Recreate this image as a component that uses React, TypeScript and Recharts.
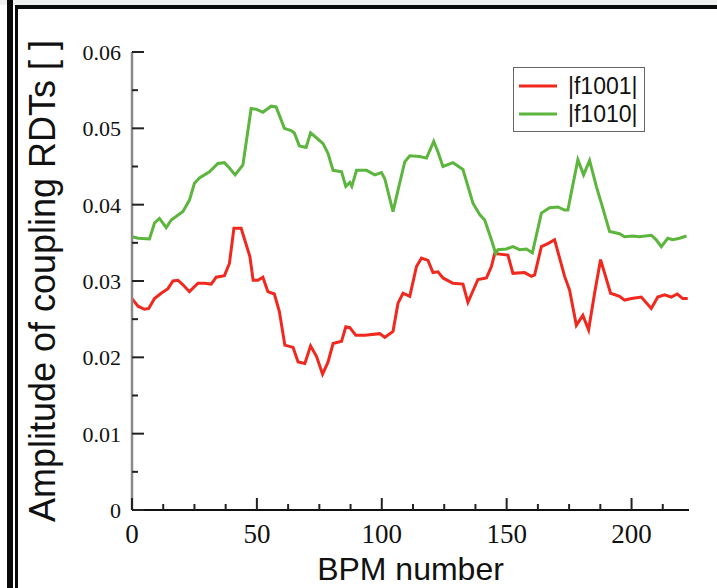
import React from 'react';
import { LineChart, Line, XAxis, YAxis, Legend, Label } from 'recharts';

// ---- data ----
const redBpm = [0, 2.4, 5, 6.7, 9, 11.7, 14.4, 16.4, 18.4, 20.4, 23, 26.4, 29, 31.7, 33.7, 37, 39, 40.8, 43.7, 47.2, 48.5, 50.4, 52.4, 54.4, 57, 59, 61.2, 64.5, 66.5, 69.2, 71.5, 73.9, 76.3, 78.5, 80.5, 83.9, 85.6, 87.2, 89.6, 93.2, 99.2, 101.2, 104.5, 106.5, 108.5, 111.2, 113.9, 115.9, 118.5, 120.5, 122.5, 124.5, 128.5, 132.5, 134.5, 138.5, 141.9, 143.9, 145.2, 150.5, 152.5, 157.2, 159.9, 161.2, 163.9, 166.5, 169.2, 173.2, 175.2, 177.9, 180.5, 182.8, 185.2, 187.6, 191.6, 195.2, 197.2, 200, 203.9, 207.9, 210.5, 213.2, 215.9, 218.3, 220.5, 222.5];
const redVal = [0.0277, 0.0267, 0.0263, 0.0264, 0.0277, 0.0284, 0.029, 0.03, 0.0301, 0.0295, 0.0286, 0.0297, 0.0297, 0.0296, 0.0305, 0.0307, 0.0323, 0.0369, 0.0369, 0.0332, 0.0301, 0.0301, 0.0305, 0.0286, 0.0283, 0.026, 0.0216, 0.0213, 0.0194, 0.0192, 0.0215, 0.0201, 0.0178, 0.0194, 0.0218, 0.0221, 0.024, 0.0239, 0.0229, 0.0229, 0.0231, 0.0226, 0.0234, 0.0271, 0.0284, 0.028, 0.0319, 0.033, 0.0327, 0.0311, 0.0312, 0.0304, 0.0297, 0.0296, 0.0272, 0.0302, 0.0304, 0.0319, 0.0336, 0.0334, 0.031, 0.0311, 0.0306, 0.0308, 0.0345, 0.0349, 0.0354, 0.0306, 0.0288, 0.0242, 0.0255, 0.0236, 0.0284, 0.0328, 0.0284, 0.028, 0.0275, 0.0277, 0.0279, 0.0264, 0.0279, 0.0282, 0.0279, 0.0283, 0.0277, 0.0277];

const greenBpm = [0, 2.5, 7, 9, 11, 13.7, 15.7, 20.4, 23, 25, 27, 31, 34.4, 37, 39, 41.3, 44.4, 47.7, 49.7, 52.4, 55.7, 57.7, 61, 63.7, 65, 67, 69.7, 71.5, 74.4, 76.5, 78.5, 80.5, 83.9, 85.6, 87.2, 88, 89.9, 93.9, 97.2, 99.9, 101.2, 104.5, 106.5, 109.2, 111.2, 115.2, 117.9, 120.8, 122.5, 124.5, 128.5, 132.5, 136.5, 139.2, 141.2, 143.9, 145.6, 146.5, 149.9, 152.5, 155.2, 157.9, 160.3, 163.9, 167.2, 170.5, 173.2, 174.5, 178.5, 180.8, 183.2, 185.9, 187.9, 191.2, 195.2, 197.2, 200.5, 203, 207.9, 209.9, 211.9, 214.5, 216.5, 219.2, 222];
const greenVal = [0.0358, 0.0356, 0.0355, 0.0376, 0.0382, 0.037, 0.038, 0.0391, 0.0406, 0.0428, 0.0435, 0.0443, 0.0454, 0.0455, 0.0448, 0.0439, 0.0452, 0.0526, 0.0525, 0.0521, 0.0529, 0.0528, 0.05, 0.0497, 0.0494, 0.0477, 0.0475, 0.0494, 0.0486, 0.048, 0.0467, 0.0445, 0.0443, 0.0424, 0.0429, 0.0424, 0.0445, 0.0445, 0.0439, 0.0442, 0.0434, 0.0391, 0.0419, 0.0456, 0.0464, 0.0463, 0.0461, 0.0483, 0.0469, 0.045, 0.0455, 0.0446, 0.0402, 0.0387, 0.038, 0.0354, 0.0336, 0.0341, 0.0342, 0.0345, 0.0341, 0.0342, 0.0337, 0.0389, 0.0396, 0.0397, 0.0393, 0.0393, 0.0459, 0.0439, 0.0458, 0.0424, 0.0402, 0.0365, 0.0362, 0.0358, 0.0359, 0.0358, 0.036, 0.0354, 0.0345, 0.0356, 0.0354, 0.0356, 0.0359];

const seriesNames = ['|f1001|', '|f1010|'];
const xMajorTicks = [0, 50, 100, 150, 200];
const xAllTicks = [0, 12.5, 25, 37.5, 50, 62.5, 75, 87.5, 100, 112.5, 125, 137.5, 150, 162.5, 175, 187.5, 200, 212.5];
const yMajorTicks = [0, 0.01, 0.02, 0.03, 0.04, 0.05, 0.06];
const yAllTicks = [0, 0.005, 0.01, 0.015, 0.02, 0.025, 0.03, 0.035, 0.04, 0.045, 0.05, 0.055, 0.06];
const yTickLabels = ['0', '0.01', '0.02', '0.03', '0.04', '0.05', '0.06'];
const xTitle = 'BPM number';
const yTitle = 'Amplitude of coupling RDTs [ ]';

const redData = redBpm.map((b, i) => ({ bpm: b, v: redVal[i] }));
const greenData = greenBpm.map((b, i) => ({ bpm: b, v: greenVal[i] }));

const RED = '#f0281e';
const GREEN = '#5cb53c';
const SERIF = "'Liberation Serif', 'Times New Roman', serif";
const SANS = "'Liberation Sans', Arial, Helvetica, sans-serif";
const TICK = '#222';
const MAJ = 12;
const MIN = 6;

const isMajorX = (v: number) => xMajorTicks.some((m) => Math.abs(m - v) < 1e-6);
const majorYIndex = (v: number) => yMajorTicks.findIndex((m) => Math.abs(m - v) < 1e-9);

const BottomTick = (props: any) => {
  const { x, y, payload } = props;
  const major = isMajorX(payload.value);
  return (
    <g>
      <line x1={x} y1={y} x2={x} y2={y - (major ? MAJ : MIN)} stroke={TICK} strokeWidth={2} />
      {major && (
        <text x={x} y={y + 33} textAnchor="middle" style={{ fontFamily: SERIF }} fontSize={27} fill="#111">
          {String(payload.value)}
        </text>
      )}
    </g>
  );
};

const TopTick = (props: any) => {
  const { x, y, payload } = props;
  const major = isMajorX(payload.value);
  return <line x1={x} y1={y} x2={x} y2={y + (major ? MAJ : MIN)} stroke={TICK} strokeWidth={2} />;
};

const LeftTick = (props: any) => {
  const { x, y, payload } = props;
  const idx = majorYIndex(payload.value);
  const major = idx >= 0;
  return (
    <g>
      <line x1={x} y1={y} x2={x + (major ? MAJ : MIN)} y2={y} stroke={TICK} strokeWidth={2} />
      {major && (
        <text x={x - 11} y={y + 8} textAnchor="end" style={{ fontFamily: SERIF }} fontSize={22} fill="#111">
          {yTickLabels[idx]}
        </text>
      )}
    </g>
  );
};

const RightTick = (props: any) => {
  const { x, y, payload } = props;
  const major = majorYIndex(payload.value) >= 0;
  return <line x1={x} y1={y} x2={x - (major ? MAJ : MIN)} y2={y} stroke={TICK} strokeWidth={2} />;
};

const XTitle = (props: any) => {
  const vb = props.viewBox;
  return (
    <text x={vb.x + vb.width / 2} y={vb.y + 70} textAnchor="middle" style={{ fontFamily: SANS }} fontSize={32} fill="#111">
      {xTitle}
    </text>
  );
};

const YTitle = (props: any) => {
  const vb = props.viewBox;
  const cx = vb.x + 55;
  const cy = vb.y + vb.height / 2;
  return (
    <text x={cx} y={cy} transform={`rotate(-90 ${cx} ${cy})`} textAnchor="middle" style={{ fontFamily: SANS }} fontSize={36} fill="#111">
      {yTitle}
    </text>
  );
};

const LegendBox = (props: any) => {
  const items = props.payload || [];
  return (
    <div
      style={{
        position: 'relative',
        width: 132,
        height: 65,
        border: '1.5px solid #666',
        boxSizing: 'border-box',
        background: '#fff',
      }}
    >
      {items.map((it: any, i: number) => (
        <div key={i} style={{ position: 'absolute', left: 0, top: 4 + i * 28, height: 28, width: 130 }}>
          <svg width={50} height={28} style={{ position: 'absolute', left: 0, top: 0 }}>
            <line x1={5} y1={14} x2={43} y2={14} stroke={it.color} strokeWidth={3} />
          </svg>
          <span
            style={{
              position: 'absolute',
              left: 54,
              top: 0,
              lineHeight: '28px',
              fontFamily: SANS,
              fontSize: 23,
              color: '#111',
              whiteSpace: 'nowrap',
            }}
          >
            {it.value}
          </span>
        </div>
      ))}
    </div>
  );
};

export default function App() {
  return (
    <div style={{ position: 'absolute', left: 0, top: 0, width: 717, height: 588, background: '#fff', overflow: 'hidden' }}>
      <LineChart width={717} height={588} margin={{ top: 52, right: 28, bottom: 0, left: 0 }}>
        <XAxis
          xAxisId={0}
          dataKey="bpm"
          type="number"
          domain={[0, 223]}
          allowDataOverflow
          ticks={xAllTicks}
          interval={0}
          orientation="bottom"
          height={78}
          tickSize={0}
          tickMargin={0}
          tickLine={false}
          axisLine={{ stroke: '#111', strokeWidth: 2 }}
          tick={<BottomTick />}
        >
          <Label content={<XTitle />} />
        </XAxis>
        <XAxis
          xAxisId="top"
          type="number"
          domain={[0, 223]}
          allowDataOverflow
          ticks={xAllTicks}
          interval={0}
          orientation="top"
          height={0}
          tickSize={0}
          tickMargin={0}
          tickLine={false}
          axisLine={{ stroke: '#555', strokeWidth: 2 }}
          tick={<TopTick />}
        />
        <YAxis
          yAxisId={0}
          type="number"
          domain={[0, 0.06]}
          allowDataOverflow
          ticks={yAllTicks}
          interval={0}
          orientation="left"
          width={132}
          tickSize={0}
          tickMargin={0}
          tickLine={false}
          axisLine={{ stroke: '#8a8a8a', strokeWidth: 2.5 }}
          tick={<LeftTick />}
        >
          <Label content={<YTitle />} />
        </YAxis>
        <YAxis
          yAxisId="right"
          type="number"
          domain={[0, 0.06]}
          allowDataOverflow
          ticks={yAllTicks}
          interval={0}
          orientation="right"
          width={0}
          tickSize={0}
          tickMargin={0}
          tickLine={false}
          axisLine={{ stroke: '#8a8a8a', strokeWidth: 2.5 }}
          tick={<RightTick />}
        />
        <Legend
          layout="vertical"
          align="center"
          verticalAlign="middle"
          content={<LegendBox />}
          wrapperStyle={{ position: 'absolute', left: 513, top: 67, width: 132, height: 65 }}
        />
        <Line
          data={redData}
          dataKey="v"
          name={seriesNames[0]}
          xAxisId={0}
          yAxisId={0}
          type="linear"
          stroke={RED}
          strokeWidth={3}
          dot={false}
          activeDot={false}
          isAnimationActive={false}
        />
        <Line
          data={greenData}
          dataKey="v"
          name={seriesNames[1]}
          xAxisId={0}
          yAxisId={0}
          type="linear"
          stroke={GREEN}
          strokeWidth={3}
          dot={false}
          activeDot={false}
          isAnimationActive={false}
        />
      </LineChart>
      {/* page frame decorations seen in the reference */}
      <div style={{ position: 'absolute', left: 0, top: 0, width: 717, height: 5, background: '#eef0ef' }} />
      <div style={{ position: 'absolute', left: 7, top: 0, width: 6, height: 588, background: '#0a0a0a' }} />
      <div style={{ position: 'absolute', left: 15, top: 5, width: 3, height: 583, background: '#0a0a0a' }} />
      <div style={{ position: 'absolute', left: 15, top: 5, width: 702, height: 4, background: '#0a0a0a' }} />
    </div>
  );
}
